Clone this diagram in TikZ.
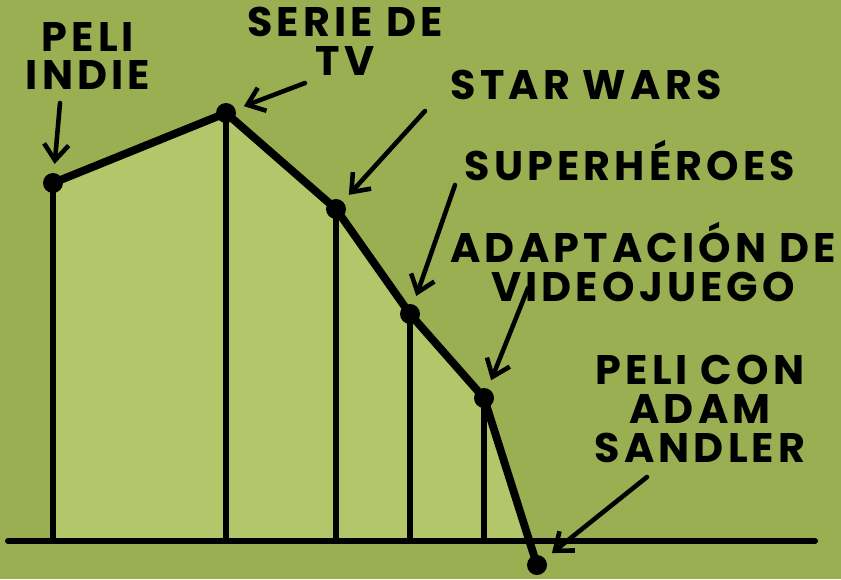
\documentclass[tikz,border=0pt]{standalone}
\usepackage{fontspec}
\setmainfont{Poppins}
\newfontfamily\handfont[LetterSpace=10]{Poppins}
\usetikzlibrary{arrows.meta}
\definecolor{bggreen}{HTML}{9AAE52}
\definecolor{areagreen}{HTML}{B3C76A}

\begin{document}
\begin{tikzpicture}[x=0.02cm,y=-0.02cm,line cap=round,line join=round]
        \tikzstyle{dot}=[circle,fill=black,minimum size=0.4cm,inner sep=0pt]
        \tikzstyle{lbl}=[align=center,font=\handfont\fontsize{23.5}{22}\selectfont\bfseries,inner sep=0pt]
        \tikzstyle{pointer}=[line width=2.6pt,-{Straight Barb[length=9pt,width=14pt,line width=2.6pt]},shorten >=5pt]
        \fill[bggreen] (0,0) rectangle (841,579);
        \useasboundingbox (0,0) rectangle (841,579);

        % points of the curve
        \foreach \name/\x/\y in {indie/53/183, tv/226/113, sw/336/209, super/410/314, game/484/398, sandler/537/565}
                \coordinate (\name) at (\x,\y);
        \coordinate (axisL) at (8,541);
        \coordinate (axisR) at (815,541);
        \coordinate (cross) at (529,541);

        \fill[areagreen] (indie |- axisL) -- (indie) -- (tv) -- (sw) -- (super) -- (game) -- (cross) -- cycle;

        \foreach \p in {indie, tv, sw, super, game}
                \draw[line width=3pt] (\p) -- (\p |- axisL);
        \draw[line width=3.4pt] (axisL) -- (axisR);
        \draw[line width=4.5pt] (indie) -- (tv) -- (sw) -- (super) -- (game) -- (sandler);

        \foreach \p in {indie, tv, sw, super, game, sandler}
                \node[dot] (d-\p) at (\p) {};

        % labels
        \node[lbl] (l-indie) at (88,56) {PELI\\INDIE};
        \node[lbl] (l-tv) at (345,41) {SERIE DE\\TV};
        \node[lbl] (l-sw) at (586,85) {STAR WARS};
        \node[lbl] (l-super) at (630,160) {SUPERHÉROES};
        \node[lbl] (l-game) at (643,262) {ADAPTACIÓN DE\\VIDEOJUEGO};
        \node[lbl] (l-sandler) at (700,409) {PELI CON\\ADAM\\SANDLER};

        % pointers
        \foreach \p/\x/\y in {indie/60/103, tv/305/83, sw/425/111, super/455/185, game/528/288, sandler/647/477}
                \coordinate (t-\p) at (\x,\y);
        \foreach \p in {indie, tv, sw, super, game, sandler}
                \draw[pointer] (t-\p) -- (d-\p);
\end{tikzpicture}
\end{document}
